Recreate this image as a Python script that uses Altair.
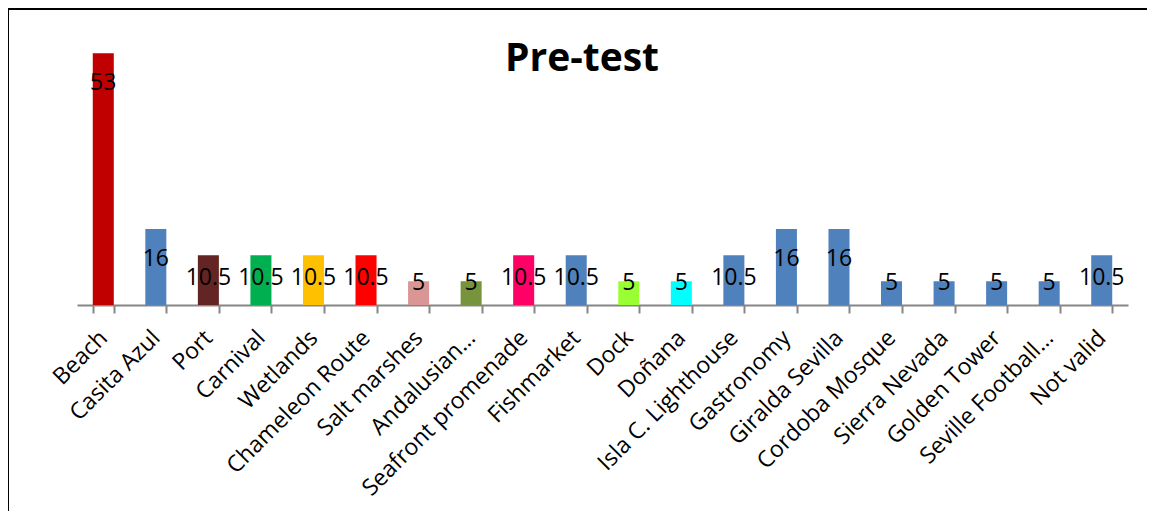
import altair as alt
import pandas as pd

categories = ["Beach", "Casita Azul", "Port", "Carnival", "Wetlands", "Chameleon Route",
              "Salt marshes", "Andalusian\u2026", "Seafront promenade", "Fishmarket", "Dock",
              "Do\u00f1ana", "Isla C. Lighthouse", "Gastronomy", "Giralda Sevilla",
              "Cordoba Mosque", "Sierra Nevada", "Golden Tower", "Seville Football\u2026", "Not valid"]
values = [53, 16, 10.5, 10.5, 10.5, 10.5, 5, 5, 10.5, 10.5, 5, 5, 10.5, 16, 16, 5, 5, 5, 5, 10.5]
colors = ["#C00000", "#4F81BD", "#632523", "#00B050", "#FFC000", "#FF0000", "#D99694",
          "#77933C", "#FF0066", "#4F81BD", "#99FF33", "#00FFFF", "#4F81BD", "#4F81BD",
          "#4F81BD", "#4F81BD", "#4F81BD", "#4F81BD", "#4F81BD", "#4F81BD"]
title_text = "Pre-test"

W, H = 1051, 283
PAD = {"left": 69, "top": 14, "right": 19, "bottom": 206}
FONT = "Open Sans"

df = pd.DataFrame({"cat": categories, "val": values, "col": colors})

x = alt.X("cat:N", sort=categories, title=None,
          scale=alt.Scale(paddingInner=0.6, paddingOuter=0.3),
          axis=alt.Axis(labelAngle=-45, labelAlign="right", labelBaseline="middle",
                        labelFont=FONT, labelFontSize=23, labelColor="#000000",
                        labelPadding=21, labelOffset=0, labelLimit=400,
                        tickBand="extent", tickSize=8, tickWidth=2, tickColor="#868686",
                        domainColor="#868686", domainWidth=2))
y = alt.Y("val:Q", title=None, scale=alt.Scale(domain=[0, 59.6], nice=False),
          axis=None)

base = alt.Chart(df)
bars = base.mark_bar().encode(x=x, y=y, color=alt.Color("col:N", scale=None))
labels = base.transform_calculate(
    lab="datum.val > 12 ? datum.val - 6.3 : (datum.val > 8 ? datum.val - 4.8 : datum.val - 0.4)"
).mark_text(font=FONT, fontSize=23, color="#000000", baseline="middle").encode(
    x=alt.X("cat:N", sort=categories),
    y=alt.Y("lab:Q"),
    text=alt.Text("val:Q"),
)

tdf = pd.DataFrame({"t": [title_text]})
title = alt.Chart(tdf).mark_text(font=FONT, fontSize=39, fontWeight="bold",
                                 color="#000000", baseline="middle").encode(
    x=alt.value(505), y=alt.value(37), text="t:N")
frame_left = alt.Chart(tdf).mark_rule(color="#000000", strokeWidth=2).encode(
    x=alt.value(-69), y=alt.value(-13), y2=alt.value(H + 220))
frame_top = alt.Chart(tdf).mark_rule(color="#000000", strokeWidth=2).encode(
    x=alt.value(-69), x2=alt.value(1100), y=alt.value(-13))

chart = alt.layer(bars, labels, title, frame_left, frame_top).properties(
    width=W, height=H, padding=PAD,
    autosize=alt.AutoSizeParams(type="none"),
).configure(background="#ffffff", view=alt.ViewConfig(stroke="transparent", strokeWidth=0))

chart.save("out.html", embed_options={"renderer": "svg", "actions": False})
